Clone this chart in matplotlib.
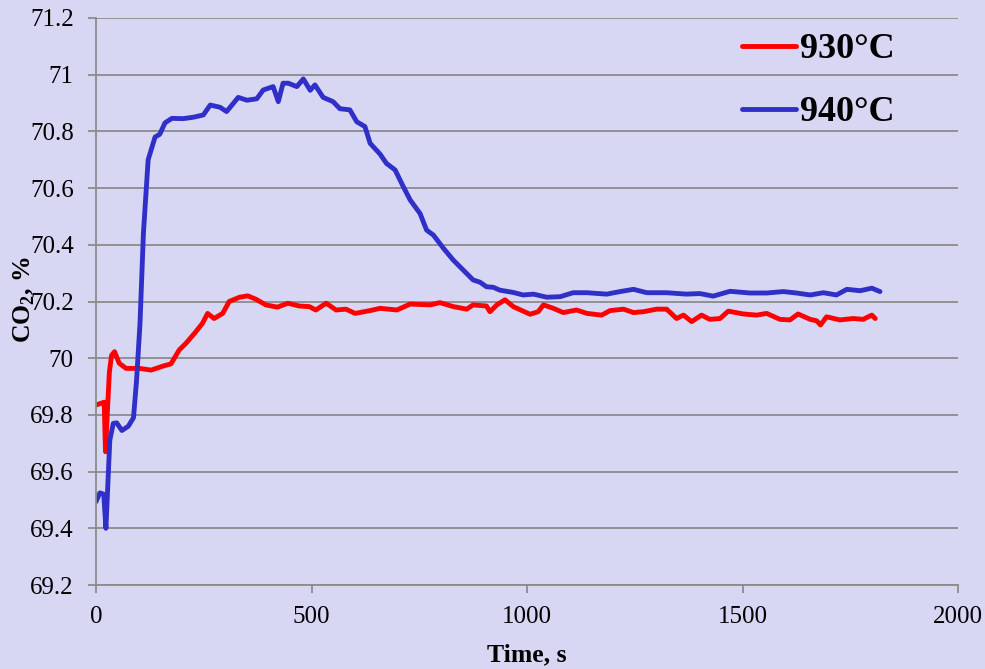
import matplotlib
matplotlib.use("Agg")
import matplotlib.pyplot as plt
import numpy as np

# ---------------- data ----------------
t_940 = [0, 9, 18, 23, 32, 40, 48, 60, 75, 87, 94, 102, 110, 121, 137, 148, 160, 176,
         202, 226, 249, 265, 288, 303, 330, 350, 373, 388, 411, 423, 434, 446, 466,
         481, 497, 508, 527, 550, 566, 589, 605, 624, 636, 659, 674, 694, 713, 729,
         752, 767, 783, 806, 829, 852, 875, 891, 906, 922, 937, 968, 991, 1015, 1046,
         1077, 1107, 1139, 1185, 1216, 1247, 1278, 1324, 1370, 1401, 1432, 1471,
         1517, 1556, 1595, 1625, 1657, 1688, 1718, 1742, 1773, 1800, 1819]
co2_940 = [69.494, 69.525, 69.52, 69.40, 69.71, 69.77, 69.772, 69.745, 69.76, 69.79,
           69.92, 70.12, 70.44, 70.70, 70.78, 70.79, 70.83, 70.846, 70.845, 70.85,
           70.858, 70.893, 70.885, 70.87, 70.92, 70.91, 70.915, 70.946, 70.958, 70.905,
           70.97, 70.97, 70.958, 70.985, 70.945, 70.964, 70.92, 70.905, 70.88, 70.876,
           70.834, 70.817, 70.758, 70.72, 70.687, 70.664, 70.605, 70.558, 70.51,
           70.452, 70.434, 70.388, 70.346, 70.311, 70.276, 70.268, 70.252, 70.25,
           70.24, 70.232, 70.223, 70.226, 70.215, 70.217, 70.231, 70.231, 70.226,
           70.235, 70.243, 70.231, 70.231, 70.226, 70.228, 70.219, 70.236, 70.23,
           70.23, 70.235, 70.23, 70.223, 70.231, 70.223, 70.243, 70.238, 70.247, 70.235]

t_930 = [0, 10, 19, 22, 27, 31, 36, 43, 54, 70, 101, 128, 155, 174, 193, 209, 232, 247,
         259, 274, 294, 309, 333, 352, 371, 394, 421, 445, 472, 495, 510, 534, 557, 580,
         601, 636, 659, 698, 729, 775, 798, 829, 860, 875, 906, 914, 930, 949, 968,
         1007, 1026, 1038, 1061, 1084, 1115, 1139, 1173, 1193, 1224, 1247, 1270, 1301,
         1324, 1347, 1363, 1382, 1405, 1424, 1448, 1467, 1502, 1533, 1556, 1587, 1610,
         1629, 1657, 1672, 1681, 1695, 1726, 1757, 1780, 1800, 1808]
co2_930 = [69.835, 69.84, 69.845, 69.67, 69.83, 69.95, 70.01, 70.023, 69.982, 69.964,
           69.964, 69.958, 69.972, 69.98, 70.029, 70.053, 70.094, 70.123, 70.158, 70.14,
           70.158, 70.2, 70.215, 70.22, 70.208, 70.188, 70.18, 70.194, 70.184, 70.182,
           70.17, 70.194, 70.17, 70.173, 70.158, 70.168, 70.176, 70.17, 70.191, 70.188,
           70.196, 70.182, 70.173, 70.188, 70.184, 70.164, 70.188, 70.206, 70.182,
           70.155, 70.164, 70.188, 70.176, 70.161, 70.17, 70.158, 70.152, 70.168,
           70.173, 70.161, 70.164, 70.173, 70.173, 70.14, 70.152, 70.129, 70.152,
           70.137, 70.14, 70.166, 70.156, 70.152, 70.158, 70.137, 70.135, 70.156,
           70.137, 70.132, 70.117, 70.146, 70.135, 70.14, 70.137, 70.152, 70.14]

series_labels = ["930\u00b0C", "940\u00b0C"]
x_ticks = [0, 500, 1000, 1500, 2000]
y_ticks = [69.2, 69.4, 69.6, 69.8, 70.0, 70.2, 70.4, 70.6, 70.8, 71.0, 71.2]
y_ticklabels = ["69.2", "69.4", "69.6", "69.8", "70", "70.2", "70.4", "70.6", "70.8", "71", "71.2"]
x_label = "Time, s"
y_label = r"CO$_\mathbf{2}$, %"

# ---------------- style ----------------
plt.rcParams['font.family'] = ['Liberation Serif', 'DejaVu Serif']
plt.rcParams['mathtext.fontset'] = 'custom'
plt.rcParams['mathtext.rm'] = 'Liberation Serif'
plt.rcParams['mathtext.bf'] = 'Liberation Serif:bold'

bg = '#D7D7F4'
grid_c = '#8C8C8C'

fig = plt.figure(figsize=(9.85, 6.69), dpi=100, facecolor=bg)
ax = fig.add_axes([96/985, 84/669, 862/985, 567/669])
ax.set_facecolor(bg)

ax.plot(t_930, co2_930, color='#FF0000', lw=3.5, label=series_labels[0],
        solid_joinstyle='round', solid_capstyle='round')
ax.plot(t_940, co2_940, color='#3030C8', lw=3.5, label=series_labels[1],
        solid_joinstyle='round', solid_capstyle='round')

ax.set_xlim(0, 2000)
ax.set_ylim(69.2, 71.2)
ax.set_xticks(x_ticks)
ax.set_xticklabels([str(v) for v in x_ticks])
ax.set_yticks(y_ticks)
ax.set_yticklabels(y_ticklabels)

for s in ['top', 'right']:
    ax.spines[s].set_visible(False)
for s in ['left', 'bottom']:
    ax.spines[s].set_color(grid_c)
    ax.spines[s].set_linewidth(1.3)

ax.yaxis.grid(True, color=grid_c, lw=1.3)
ax.set_axisbelow(True)
ax.tick_params(axis='both', direction='out', length=6, width=1.3, color=grid_c,
               labelsize=18, labelcolor='black')
ax.tick_params(axis='y', pad=10)
ax.tick_params(axis='x', pad=9)

fig.text(527/985, 1 - 655/669, x_label, ha='center', va='center',
         fontsize=18.5, fontweight='bold')
fig.text(24/985, 1 - 300/669, y_label, ha='center', va='center', rotation=90,
         fontsize=18.5, fontweight='bold')

leg = ax.legend(loc='upper left', bbox_to_anchor=(646/862, 1 - 15/567),
                frameon=False, prop={'size': 26, 'weight': 'bold'},
                handlelength=1.5, handletextpad=0.1, labelspacing=0.82,
                borderaxespad=0, borderpad=0)

fig.savefig('out.png', dpi=100, facecolor=bg)
